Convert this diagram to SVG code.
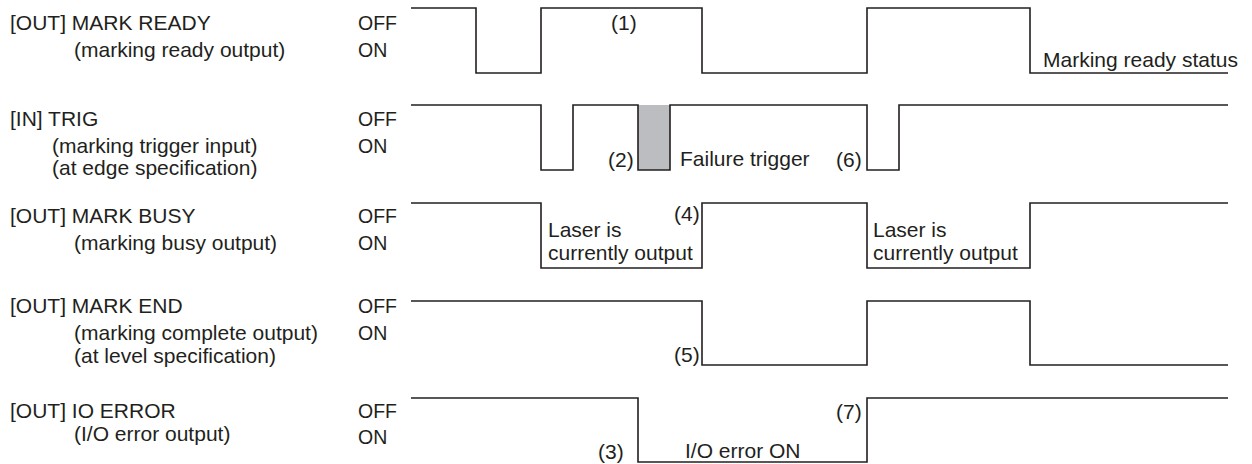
<svg xmlns="http://www.w3.org/2000/svg" width="1252" height="464" viewBox="0 0 1252 464">
<style>
text { font-family: "Liberation Sans", Arial, Helvetica, sans-serif; font-size: 21px; fill: #231f20; }
text.st { font-size: 19.5px; }
.w { fill: none; stroke: #231f20; stroke-width: 1.6; stroke-linejoin: miter; stroke-linecap: butt; }
.gray { fill: #bcbdc0; stroke: none; }
</style>
<rect width="1252" height="464" fill="#ffffff"/>
<g id="mark-ready">
  <text x="10" y="30">[OUT] MARK READY</text>
  <text x="74" y="57">(marking ready output)</text>
  <text class="st" x="358" y="30">OFF</text>
  <text class="st" x="358" y="57">ON</text>
  <path class="w" d="M411,8 H476 V73 H541 V8 H702 V73 H867 V8 H1030 V73 H1228"/>
  <text x="611" y="30">(1)</text>
  <text x="1043" y="67">Marking ready status</text>
</g>
<g id="trig">
  <text x="10" y="126">[IN] TRIG</text>
  <text x="52" y="153">(marking trigger input)</text>
  <text x="52" y="175">(at edge specification)</text>
  <text class="st" x="358" y="126">OFF</text>
  <text class="st" x="358" y="153">ON</text>
  <rect class="gray" x="638" y="105" width="32" height="65"/>
  <path class="w" d="M411,105 H541 V170 H573 V105 H638 V170 H670 V105 H867 V170 H899 V105 H1228"/>
  <text x="608" y="167">(2)</text>
  <text x="680" y="166">Failure trigger</text>
  <text x="836" y="167">(6)</text>
</g>
<g id="mark-busy">
  <text x="10" y="223">[OUT] MARK BUSY</text>
  <text x="74" y="250">(marking busy output)</text>
  <text class="st" x="358" y="223">OFF</text>
  <text class="st" x="358" y="250">ON</text>
  <path class="w" d="M411,203 H541 V268 H702 V203 H867 V268 H1030 V203 H1228"/>
  <text x="674" y="221">(4)</text>
  <text x="548" y="237">Laser is</text>
  <text x="548" y="260">currently output</text>
  <text x="873" y="237">Laser is</text>
  <text x="873" y="260">currently output</text>
</g>
<g id="mark-end">
  <text x="10" y="313">[OUT] MARK END</text>
  <text x="74" y="340">(marking complete output)</text>
  <text x="74" y="363">(at level specification)</text>
  <text class="st" x="358" y="313">OFF</text>
  <text class="st" x="358" y="340">ON</text>
  <path class="w" d="M411,301 H702 V365 H867 V301 H1030 V365 H1228"/>
  <text x="674" y="362">(5)</text>
</g>
<g id="io-error">
  <text x="10" y="418">[OUT] IO ERROR</text>
  <text x="74" y="441">(I/O error output)</text>
  <text class="st" x="358" y="418">OFF</text>
  <text class="st" x="358" y="444">ON</text>
  <path class="w" d="M411,398 H638 V462 H867 V398 H1228"/>
  <text x="598" y="459">(3)</text>
  <text x="685" y="458">I/O error ON</text>
  <text x="836" y="419">(7)</text>
</g>
</svg>
